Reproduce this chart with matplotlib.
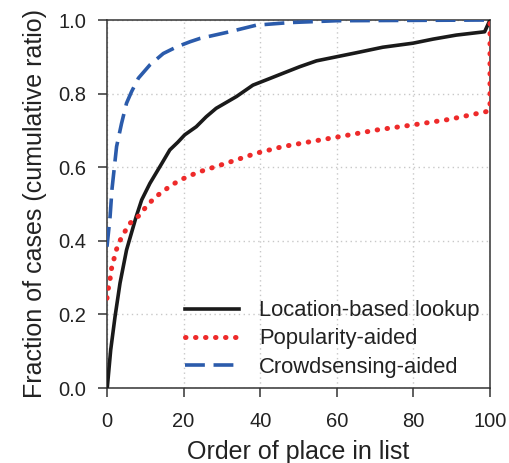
import matplotlib
matplotlib.use("Agg")
import matplotlib.pyplot as plt

plt.rcParams['font.family'] = ['Liberation Sans', 'DejaVu Sans']

# Cumulative ratio of cases vs. order of the place in the list
loc_x = [0, 0.1, 0.96, 2.1, 3.4, 5.1, 7.6, 9.05, 11.2, 14.3, 16.4, 18.5, 20.3, 23.3,
         25.9, 28.5, 33.8, 38.1, 42.5, 45.9, 50.3, 54.7, 59.9, 65.1, 72.0, 79.9, 85.1,
         91.2, 98.6, 100]
loc_y = [0.0, 0.004, 0.103, 0.194, 0.285, 0.375, 0.465, 0.511, 0.556, 0.61, 0.647,
         0.668, 0.688, 0.71, 0.737, 0.76, 0.792, 0.823, 0.841, 0.855, 0.873, 0.889,
         0.90, 0.911, 0.926, 0.937, 0.948, 0.959, 0.968, 1.0]

pop_x = [0, 0.3, 0.78, 1.04, 1.65, 2.26, 3.1, 4.4, 5.8, 8.2, 10.1, 12.4, 14.7, 17.1,
         19.5, 22.1, 24.3, 31.2, 39.0, 45.9, 52.9, 60.7, 70.3, 79.9, 89.4, 99.0, 100,
         100]
pop_y = [0.244, 0.268, 0.293, 0.319, 0.343, 0.37, 0.395, 0.42, 0.446, 0.467, 0.491,
         0.517, 0.535, 0.553, 0.567, 0.579, 0.588, 0.611, 0.638, 0.656, 0.669, 0.683,
         0.701, 0.715, 0.73, 0.751, 0.76, 0.995]

crowd_x = [0, 0.8, 1.3, 2.5, 3.8, 5.1, 6.4, 8.2, 11.2, 14.7, 18.2, 21.7, 24.3, 32.0,
           39.0, 47.7, 59.9, 100]
crowd_y = [0.384, 0.465, 0.54, 0.656, 0.719, 0.774, 0.805, 0.842, 0.878, 0.909, 0.927,
           0.941, 0.95, 0.968, 0.986, 0.993, 0.998, 1.0]

labels = ["Location-based lookup", "Popularity-aided", "Crowdsensing-aided"]
x_ticks = [0, 20, 40, 60, 80, 100]
y_ticks = [0.0, 0.2, 0.4, 0.6, 0.8, 1.0]

fig = plt.figure(figsize=(5.09, 4.63), dpi=100)
ax = fig.add_axes([107 / 509, 1 - 388 / 463, 383 / 509, 368 / 463])

ax.plot(loc_x, loc_y, color='#1a1a1a', lw=2.6, label=labels[0], zorder=3)
ax.plot(pop_x, pop_y, color='#ee2a2a', lw=3.6, linestyle=(0, (0.1, 1.9)),
        dash_capstyle='round', label=labels[1], zorder=3)
ax.plot(crowd_x, crowd_y, color='#2b5bab', lw=2.6, linestyle=(0, (5.5, 2.4)),
        label=labels[2], zorder=3)

ax.set_xlim(0, 100)
ax.set_ylim(0, 1.0)
ax.set_xticks(x_ticks)
ax.set_yticks(y_ticks)
ax.set_yticklabels([f"{v:.1f}" for v in y_ticks])
ax.grid(True, color='#c8c8c8', linestyle=(0, (1, 2.5)), lw=1.0)
ax.set_axisbelow(True)

for sp in ax.spines.values():
    sp.set_color('#333333')
    sp.set_linewidth(1.1)
ax.tick_params(direction='out', length=6.5, width=1.1, color='#333333',
               labelsize=14.5, labelcolor='#222222')
ax.tick_params(axis='x', pad=11)
ax.tick_params(axis='y', pad=8.5)

ax.set_xlabel("Order of place in list", fontsize=18, color='#222222', labelpad=6)
ax.set_ylabel("Fraction of cases (cumulative ratio)", fontsize=18, color='#222222',
              labelpad=8)

leg = ax.legend(loc='lower right', frameon=False, fontsize=15.8, handlelength=2.5,
                handletextpad=0.9, labelspacing=0.33, borderaxespad=0.07,
                bbox_to_anchor=(1.0, 0.0))
for t in leg.get_texts():
    t.set_color('#222222')

fig.savefig("out.png", dpi=100)
